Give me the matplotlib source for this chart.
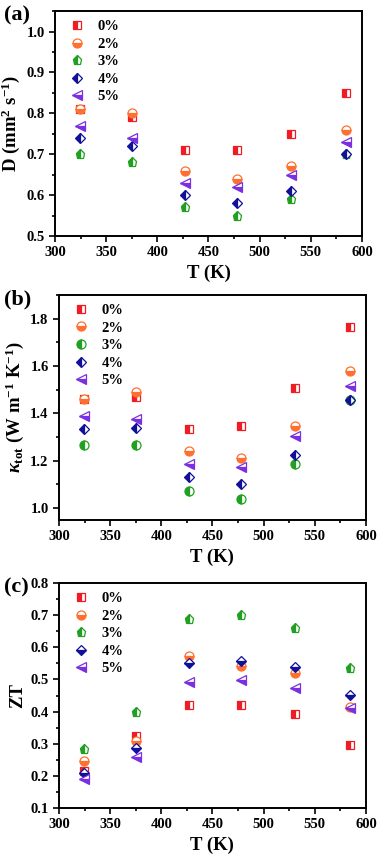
import matplotlib.pyplot as plt
from matplotlib.ticker import MultipleLocator

plt.rcParams['font.family'] = ['Liberation Serif', 'DejaVu Serif']
plt.rcParams['font.weight'] = 'bold'
plt.rcParams['mathtext.fontset'] = 'custom'
plt.rcParams['mathtext.rm'] = 'Liberation Serif:bold'
plt.rcParams['mathtext.it'] = 'Liberation Serif:italic:bold'
plt.rcParams['mathtext.bf'] = 'Liberation Serif:bold'

T = [324, 375, 427, 478, 531, 584]
labels = ['0%', '2%', '3%', '4%', '5%']

D_vals = {
    '0%': [0.81, 0.79, 0.71, 0.71, 0.75, 0.85],
    '2%': [0.81, 0.80, 0.66, 0.64, 0.67, 0.76],
    '3%': [0.70, 0.68, 0.57, 0.55, 0.59, 0.70],
    '4%': [0.74, 0.72, 0.60, 0.58, 0.61, 0.70],
    '5%': [0.77, 0.74, 0.63, 0.62, 0.65, 0.73],
}
k_vals = {
    '0%': [1.46, 1.47, 1.335, 1.345, 1.505, 1.765],
    '2%': [1.46, 1.49, 1.24, 1.21, 1.345, 1.58],
    '3%': [1.265, 1.265, 1.07, 1.04, 1.185, 1.455],
    '4%': [1.335, 1.34, 1.13, 1.10, 1.225, 1.455],
    '5%': [1.39, 1.375, 1.185, 1.175, 1.305, 1.515],
}
ZT_vals = {
    '0%': [0.215, 0.325, 0.422, 0.422, 0.392, 0.295],
    '2%': [0.245, 0.31, 0.572, 0.542, 0.52, 0.415],
    '3%': [0.283, 0.40, 0.688, 0.70, 0.66, 0.535],
    '4%': [0.21, 0.287, 0.55, 0.557, 0.54, 0.452],
    '5%': [0.19, 0.258, 0.492, 0.497, 0.475, 0.41],
}

colors = {'0%': '#f01c24', '2%': '#ff7030', '3%': '#20a020', '4%': '#10109a', '5%': '#7a30e0'}

# marker, fillstyle per panel
styles_a = {'0%': ('s', 'left'), '2%': ('o', 'bottom'), '3%': ('p', 'left'),
            '4%': ('D', 'left'), '5%': ('<', 'bottom')}
styles_b = dict(styles_a, **{'3%': ('o', 'left')})
styles_c = dict(styles_a, **{'4%': ('D', 'bottom')})

panels = [
    ([0.1455, 0.724, 0.812, 0.263], D_vals, styles_a, (0.5, 1.05), 0.1, 0.05,
     r'D (mm$^2$ s$^{-1}$)', '(a)'),
    ([0.156, 0.392, 0.812, 0.263], k_vals, styles_b, (0.95, 1.9), 0.2, 0.1,
     r'$\kappa_{\rm tot}$ (W m$^{-1}$ K$^{-1}$)', '(b)'),
    ([0.156, 0.055, 0.812, 0.263], ZT_vals, styles_c, (0.1, 0.8), 0.1, 0.05,
     'ZT', '(c)'),
]

fig = plt.figure(figsize=(3.78, 8.55), dpi=100)

for rect, vals, styles, ylim, major, minor, ylabel, tag in panels:
    ax = fig.add_axes(rect)
    for lab in labels:
        m, fs = styles[lab]
        ms = 6.5 if m in ('p', '<', 'o') else 5.5
        ax.plot(T, vals[lab], linestyle='none', marker=m, fillstyle=fs,
                markersize=ms, color=colors[lab], markerfacecoloralt='white',
                markeredgewidth=0.9, label=lab)
    ax.set_xlim(300, 600)
    ax.set_ylim(*ylim)
    ax.xaxis.set_major_locator(MultipleLocator(50))
    ax.xaxis.set_minor_locator(MultipleLocator(25))
    ax.yaxis.set_major_locator(MultipleLocator(major))
    ax.yaxis.set_minor_locator(MultipleLocator(minor))
    ax.tick_params(which='both', direction='out', labelsize=10.5, width=1.2)
    ax.tick_params(which='major', length=4)
    ax.tick_params(which='minor', length=2.5)
    for s in ax.spines.values():
        s.set_linewidth(1.4)
    for t in ax.get_xticklabels() + ax.get_yticklabels():
        t.set_fontweight('bold')
    ax.set_xlabel('T (K)', fontsize=13.5, fontweight='bold', labelpad=4)
    ax.set_ylabel(ylabel, fontsize=13.5, fontweight='bold', labelpad=3)
    ax.legend(loc='upper left', frameon=False, handlelength=1.0,
              handletextpad=0.9, labelspacing=0.3, borderaxespad=0.2,
              bbox_to_anchor=(0.02, 1.0), prop={'weight': 'bold', 'size': 10.5})
    fig.text(0.01, rect[1] + rect[3] - 0.005, tag, fontsize=16, fontweight='bold',
             ha='left', va='center')

plt.savefig('out.png', dpi=100)
